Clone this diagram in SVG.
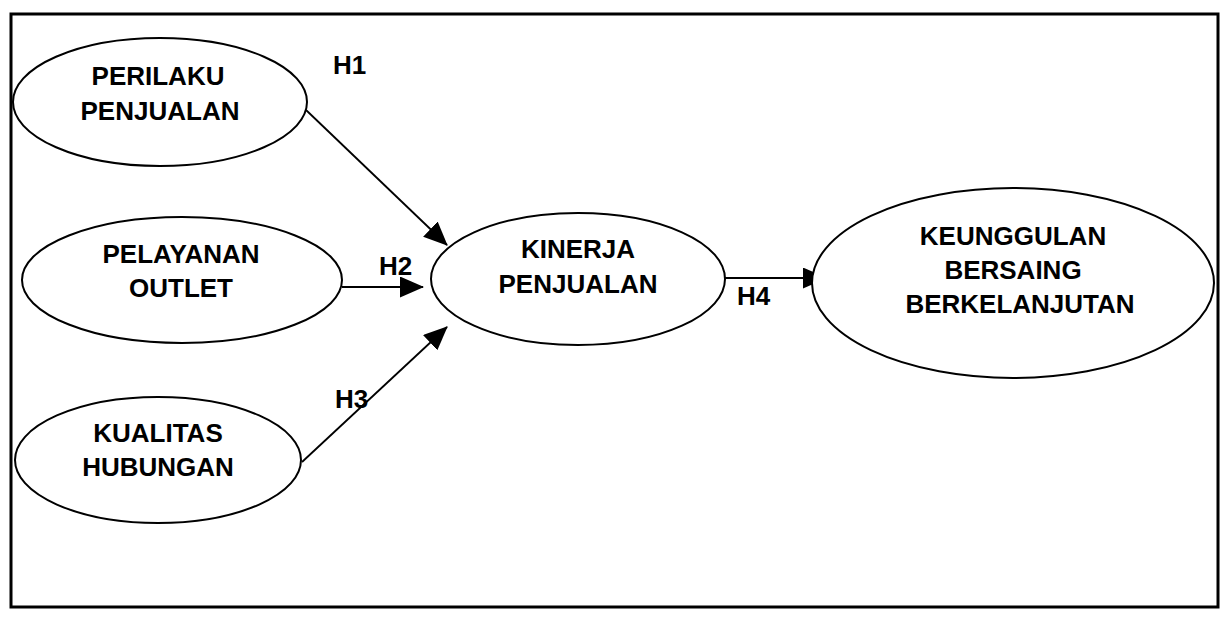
<svg xmlns="http://www.w3.org/2000/svg" width="1224" height="619" viewBox="0 0 1224 619">
<style>
.node ellipse{fill:#fff;stroke:#000;stroke-width:2}
text{font-family:"Liberation Sans",Arial,sans-serif;font-weight:bold;font-size:26px;fill:#000;text-anchor:middle}
.lbl{text-anchor:start}
.conn line{stroke:#000;stroke-width:1.8}
</style>
<defs>
<marker id="ah" markerUnits="userSpaceOnUse" markerWidth="24" markerHeight="21" viewBox="0 0 24 21" refX="23" refY="10.5" orient="auto">
<path d="M0,0 L24,10.5 L0,21 Z" fill="#000"/>
</marker>
</defs>
<rect x="11" y="14" width="1207" height="593" fill="none" stroke="#000" stroke-width="3"/>
<g class="conn">
<line x1="306" y1="110" x2="447" y2="245" marker-end="url(#ah)"/>
<line x1="342" y1="287" x2="423" y2="287" marker-end="url(#ah)"/>
<line x1="302" y1="462" x2="447" y2="327" marker-end="url(#ah)"/>
<line x1="725" y1="278" x2="826" y2="278" marker-end="url(#ah)"/>
<text class="lbl" x="333" y="74">H1</text>
<text class="lbl" x="379" y="275">H2</text>
<text class="lbl" x="335" y="408">H3</text>
<text class="lbl" x="737" y="305">H4</text>
</g>
<g id="perilaku" class="node">
<ellipse cx="160" cy="102" rx="147" ry="64"/>
<text x="158" y="85">PERILAKU</text>
<text x="160" y="120">PENJUALAN</text>
</g>
<g id="pelayanan" class="node">
<ellipse cx="182" cy="280" rx="160" ry="63"/>
<text x="181" y="263">PELAYANAN</text>
<text x="181" y="297">OUTLET</text>
</g>
<g id="kualitas" class="node">
<ellipse cx="158" cy="460" rx="143" ry="63"/>
<text x="158" y="442">KUALITAS</text>
<text x="158" y="476">HUBUNGAN</text>
</g>
<g id="kinerja" class="node">
<ellipse cx="578" cy="279" rx="147" ry="66"/>
<text x="578" y="258">KINERJA</text>
<text x="578" y="293">PENJUALAN</text>
</g>
<g id="keunggulan" class="node">
<ellipse cx="1013" cy="283" rx="201" ry="95"/>
<text x="1013" y="245">KEUNGGULAN</text>
<text x="1013" y="279">BERSAING</text>
<text x="1020" y="313">BERKELANJUTAN</text>
</g>
</svg>
